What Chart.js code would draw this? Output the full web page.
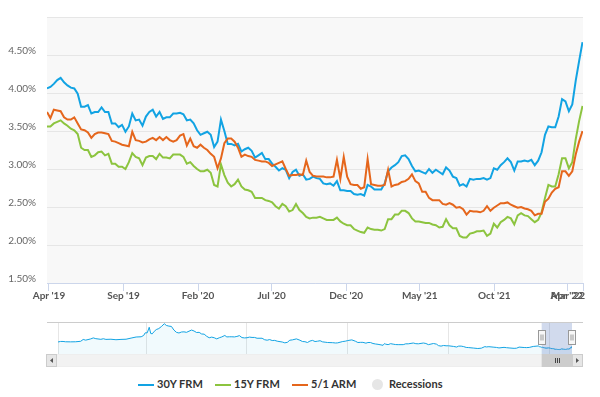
<!DOCTYPE html>
<html><head><meta charset="utf-8">
<script src="https://cdn.jsdelivr.net/npm/chart.js@4.4.0/dist/chart.umd.min.js"></script>
<style>
html,body{margin:0;padding:0;background:#fff;width:600px;height:397px;overflow:hidden;font-family:Lato,sans-serif}
#main{position:absolute;left:0;top:0}
#nav{position:absolute;left:0;top:314px}
#legend{position:absolute;left:0;top:377px;width:600px;height:16px}
.li{position:absolute;top:0;height:16px;line-height:16px;font:bold 11px Lato,sans-serif;color:#333;white-space:nowrap}
.sym{position:absolute;top:7px;width:16px;height:2px}
.dot{position:absolute;top:2px;width:11px;height:11px;border-radius:50%;background:#e6e6e6}
</style></head><body>
<canvas id="main" width="600" height="310"></canvas>
<canvas id="nav" width="600" height="60"></canvas>
<div id="legend"></div>
<script>
// ---- data (Freddie Mac PMMS weekly, %) ----
const firstWeek = '2019-03-28';
const rate30 = [
4.06,4.08,4.12,4.17,4.20,4.14,4.10,4.07,4.06,3.99,
3.82,3.82,3.84,3.73,3.75,3.75,3.81,3.75,3.75,3.60,
3.60,3.55,3.58,3.49,3.56,3.73,3.64,3.65,3.57,3.69,
3.75,3.78,3.69,3.75,3.66,3.68,3.68,3.73,3.73,3.74,
3.72,3.64,3.65,3.60,3.51,3.45,3.47,3.49,3.45,3.29,
3.36,3.65,3.50,3.33,3.33,3.31,3.33,3.23,3.26,3.28,
3.24,3.15,3.18,3.21,3.13,3.13,3.07,3.03,2.98,3.01,
2.99,2.88,2.96,2.99,2.91,2.93,2.86,2.87,2.90,2.88,
2.87,2.81,2.80,2.81,2.78,2.84,2.72,2.72,2.71,2.71,
2.67,2.66,2.67,2.65,2.79,2.77,2.73,2.73,2.73,2.81,
2.97,3.02,3.05,3.09,3.17,3.18,3.13,3.04,2.97,2.98,
2.96,2.94,3.00,2.95,2.99,2.96,2.93,3.02,2.98,2.90,
2.88,2.78,2.80,2.77,2.87,2.86,2.87,2.87,2.88,2.86,
2.88,3.01,2.99,3.05,3.09,3.14,3.09,2.98,3.10,3.10,
3.11,3.10,3.12,3.05,3.11,3.22,3.45,3.56,3.55,3.55,
3.69,3.92,3.89,3.76,3.85,4.16,4.42,4.67];
const rate15 = [
3.56,3.56,3.60,3.62,3.64,3.60,3.57,3.53,3.51,3.46,
3.28,3.25,3.25,3.16,3.18,3.22,3.23,3.18,3.20,3.07,
3.07,3.03,3.03,3.00,3.09,3.21,3.16,3.14,3.05,3.15,
3.17,3.17,3.13,3.20,3.15,3.15,3.14,3.19,3.19,3.19,
3.16,3.07,3.09,3.04,3.00,2.97,2.97,2.99,2.95,2.79,
2.77,3.06,2.92,2.82,2.77,2.80,2.86,2.77,2.73,2.72,
2.70,2.62,2.62,2.62,2.59,2.58,2.56,2.51,2.48,2.54,
2.51,2.44,2.46,2.54,2.46,2.42,2.37,2.35,2.36,2.36,
2.37,2.35,2.33,2.33,2.33,2.36,2.31,2.28,2.26,2.26,
2.21,2.19,2.17,2.16,2.23,2.21,2.20,2.20,2.19,2.21,
2.34,2.34,2.40,2.40,2.45,2.45,2.42,2.35,2.31,2.31,
2.30,2.29,2.29,2.27,2.26,2.23,2.24,2.34,2.26,2.22,
2.22,2.12,2.10,2.10,2.15,2.16,2.18,2.18,2.19,2.12,
2.15,2.28,2.23,2.30,2.33,2.37,2.35,2.27,2.39,2.42,
2.39,2.38,2.34,2.30,2.33,2.43,2.62,2.79,2.77,2.77,
2.93,3.14,3.14,3.01,3.09,3.39,3.63,3.83];
const arm51 = [
3.75,3.67,3.78,3.77,3.76,3.68,3.65,3.65,3.68,3.60,
3.52,3.51,3.48,3.41,3.46,3.48,3.48,3.47,3.46,3.37,
3.36,3.34,3.32,3.31,3.30,3.49,3.38,3.37,3.35,3.36,
3.39,3.41,3.38,3.42,3.38,3.42,3.38,3.36,3.38,3.44,
3.46,3.31,3.40,3.30,3.28,3.32,3.28,3.25,3.20,3.16,
3.01,3.14,3.34,3.40,3.40,3.36,3.28,3.16,3.19,3.17,
3.16,3.12,3.11,3.10,3.10,3.08,3.04,3.06,3.08,3.10,
3.00,2.91,2.92,2.92,2.93,2.92,3.11,2.96,2.91,2.90,
2.90,2.90,2.89,2.89,2.90,3.12,2.87,3.16,2.90,2.80,
2.79,2.79,2.74,2.76,3.13,2.80,2.79,2.78,2.78,2.79,
2.99,2.77,2.79,2.80,2.83,2.84,2.87,2.93,2.84,2.81,
2.70,2.70,2.62,2.59,2.59,2.59,2.54,2.53,2.55,2.53,
2.49,2.50,2.47,2.40,2.45,2.44,2.44,2.43,2.45,2.51,
2.45,2.49,2.52,2.55,2.55,2.56,2.53,2.51,2.49,2.50,
2.48,2.47,2.45,2.39,2.41,2.41,2.57,2.61,2.69,2.74,
2.76,2.97,2.97,2.91,2.97,3.19,3.36,3.50];
const seriesNames = ['30Y FRM','15Y FRM','5/1 ARM'];
const seriesColors = ['#12a3e3','#8cc43f','#e5661c'];
const xTickDates = ['2019-04-01','2019-09-01','2020-02-01','2020-07-01','2020-12-01','2021-05-01','2021-10-01','2022-03-01','2022-04-01'];
const yTicks = [1.5,2.0,2.5,3.0,3.5,4.0,4.5,5.0];
// navigator: long history of the 30Y FRM before the weekly window
const navHistYears = [1971.25,1971.5,1971.75,1972.0,1972.5,1973.0,1973.5,1973.75,1974.0,1974.5,1974.75,1975.0,1975.5,1975.75,1976.0,1976.5,1977.0,1977.5,1978.0,1978.5,1979.0,1979.5,1979.75,1979.9,1980.1,1980.3,1980.45,1980.6,1980.8,1981.0,1981.25,1981.5,1981.8,1982.0,1982.25,1982.5,1982.75,1983.0,1983.25,1983.5,1983.75,1984.0,1984.5,1984.75,1985.0,1985.25,1985.5,1985.75,1986.0,1986.25,1986.5,1986.75,1987.0,1987.25,1987.5,1987.8,1988.0,1988.25,1988.5,1988.75,1989.0,1989.25,1989.5,1989.75,1990.0,1990.25,1990.5,1990.75,1991.0,1991.5,1991.75,1992.0,1992.25,1992.5,1992.75,1993.0,1993.5,1993.75,1994.0,1994.25,1994.5,1994.9,1995.25,1995.5,1995.75,1996.0,1996.25,1996.5,1996.75,1997.0,1997.25,1997.5,1997.75,1998.0,1998.5,1998.8,1999.0,1999.5,1999.75,2000.0,2000.4,2000.75,2001.0,2001.25,2001.5,2001.8,2002.0,2002.25,2002.5,2002.75,2003.0,2003.5,2003.65,2003.75,2004.0,2004.25,2004.5,2004.75,2005.0,2005.5,2005.75,2006.0,2006.5,2006.75,2007.0,2007.5,2007.75,2008.0,2008.5,2008.8,2009.0,2009.25,2009.5,2009.75,2010.0,2010.5,2010.8,2011.0,2011.25,2011.5,2011.75,2012.0,2012.5,2012.9,2013.25,2013.6,2013.75,2014.0,2014.5,2014.75,2015.0,2015.5,2015.75,2016.0,2016.5,2016.75,2017.0,2017.5,2017.75,2018.0,2018.4,2018.9,2019.0,2019.15];
const navHistRates = [7.33,7.65,7.65,7.45,7.40,7.45,7.75,8.85,8.45,9.20,9.80,9.35,8.95,9.30,8.90,9.00,8.70,8.90,9.00,9.70,10.35,10.50,11.30,12.90,12.90,16.30,12.50,12.30,13.80,14.90,15.50,16.70,18.45,17.40,17.00,16.80,14.60,13.20,12.80,13.40,13.50,13.20,14.60,14.00,13.10,13.20,12.20,12.10,10.80,9.90,10.30,9.90,9.20,9.90,10.40,11.30,10.40,10.50,10.50,10.40,10.70,11.20,10.00,9.80,9.90,10.30,10.10,10.10,9.60,9.60,8.70,8.40,8.80,8.20,8.30,7.80,7.30,6.80,7.10,8.40,8.60,9.20,8.40,7.60,7.50,7.00,7.90,8.30,7.60,7.80,8.10,7.40,7.20,7.00,6.90,6.70,6.80,7.60,7.80,8.20,8.60,7.80,7.00,7.10,7.10,6.60,7.00,7.00,6.40,6.10,5.90,5.30,6.40,6.00,5.70,6.30,6.00,5.75,5.70,5.70,6.20,6.20,6.70,6.30,6.20,6.70,6.40,5.70,6.40,6.00,5.10,4.80,5.20,5.00,5.00,4.60,4.25,4.80,4.80,4.50,4.00,3.90,3.60,3.35,3.55,4.50,4.30,4.45,4.15,4.00,3.70,4.05,3.85,3.70,3.45,3.55,4.20,3.95,3.90,4.00,4.60,4.90,4.50,4.30];
const navTickYears = [1971.25,1980,1990,2000,2010,2020];
const navTickLabels = ['1970','1980','1990','2000','2010','20'];
const legendExtra = 'Recessions';

// ---- helpers ----
const DAY = 86400000;
const t0 = Date.parse(firstWeek + 'T00:00:00Z');
const weekDates = rate30.map((_, i) => t0 + i * 7 * DAY);
const tickMs = xTickDates.map(v => Date.parse(v + 'T00:00:00Z'));
const MON = ['Jan','Feb','Mar','Apr','May','Jun','Jul','Aug','Sep','Oct','Nov','Dec'];
function fmtDate(v){ const d = new Date(v); return MON[d.getUTCMonth()] + " '" + String(d.getUTCFullYear()).slice(2); }
function toYear(ms){ return 1970 + ms / (365.2425 * DAY); }
const seriesValues = [rate30, rate15, arm51];
const xMax = Math.max(weekDates[weekDates.length-1], tickMs[tickMs.length-1]);

// ---- main chart ----
const plotBg = {id:'plotBg', beforeDraw(c){ const a=c.chartArea, x=c.ctx; x.save(); x.fillStyle='#f8f8f8'; x.fillRect(a.left,a.top,a.right-a.left,a.bottom-a.top); x.restore(); }};
new Chart(document.getElementById('main'), {
  type:'line',
  data:{ datasets: seriesNames.map((n, k) => ({
    label:n, data: weekDates.map((d, i) => ({x:d, y:seriesValues[k][i]})),
    borderColor:seriesColors[k], backgroundColor:seriesColors[k], borderWidth:2, pointRadius:0, tension:0, fill:false
  })).reverse() },
  options:{
    responsive:false, animation:false, devicePixelRatio:1,
    layout:{padding:{left:0,right:17,top:6,bottom:0}},
    plugins:{legend:{display:false}, tooltip:{enabled:false}},
    scales:{
      x:{ type:'linear', min:weekDates[0], max:xMax,
        afterBuildTicks(s){ s.ticks = [{value:s.min}].concat(tickMs.map(v => ({value:v}))); },
        afterFit(s){ s.height = 27; },
        grid:{ drawOnChartArea:false, drawTicks:true, tickLength:8, tickColor:(c)=> c.index===0 ? 'rgba(0,0,0,0)' : '#ccd6eb' },
        border:{ display:true, color:'#ccd6eb' },
        ticks:{ autoSkip:false, maxRotation:0, minRotation:0, align:'inner', padding:-1, color:'#555',
          font:{family:'Lato', size:10, weight:'bold'}, callback:(v,i)=> i===0 ? '' : fmtDate(v) }
      },
      y:{ min:1.5, max:5,
        afterBuildTicks(s){ s.ticks = yTicks.map(v => ({value:v})); },
        afterFit(s){ s.width = 47; },
        grid:{ color:'#e6e6e6', drawTicks:false },
        border:{ display:false },
        ticks:{ padding:11, labelOffset:-4, color:'#666', font:{family:'Lato', size:10},
          callback:(v)=> v >= 5 ? '' : v.toFixed(2) + '%' }
      }
    }
  },
  plugins:[plotBg]
});

// ---- navigator ----
const navPoints = navHistYears.map((y, i) => ({x:y, y:navHistRates[i]}))
  .concat(weekDates.map((d, i) => ({x:toYear(d), y:rate30[i]})));
const maskFrom = toYear(weekDates[0]), maskTo = toYear(weekDates[weekDates.length-1]);
const navChrome = {id:'navChrome', afterDraw(c){
  const ctx=c.ctx, a=c.chartArea, xs=c.scales.x;
  const m0 = xs.getPixelForValue(maskFrom), m1 = xs.getPixelForValue(maskTo);
  ctx.save();
  ctx.fillStyle='rgba(102,133,194,0.3)';
  ctx.fillRect(m0, a.top, m1-m0, a.bottom-a.top);
  ctx.strokeStyle='#cccccc'; ctx.lineWidth=1;
  ctx.beginPath(); ctx.moveTo(47, a.top+0.5); ctx.lineTo(583, a.top+0.5); ctx.stroke();
  // scrollbar
  const sy = a.bottom, sh = 13;
  ctx.fillStyle='#f2f2f2'; ctx.fillRect(46, sy, 537, sh);
  ctx.strokeStyle='#eeeeee'; ctx.strokeRect(46.5, sy+0.5, 536, sh-1);
  // thumb
  ctx.fillStyle='#cccccc'; ctx.fillRect(m0, sy, m1-m0, sh);
  ctx.strokeStyle='#444'; ctx.beginPath();
  const cx = Math.round((m0+m1)/2);
  [-2,0,2].forEach(o => { ctx.moveTo(cx+o+0.5, sy+4); ctx.lineTo(cx+o+0.5, sy+9); });
  ctx.stroke();
  // buttons
  [[46,'l'],[572,'r']].forEach(([bx,dir]) => {
    ctx.fillStyle='#e6e6e6'; ctx.fillRect(bx, sy, 11, sh);
    ctx.strokeStyle='#cccccc'; ctx.strokeRect(bx+0.5, sy+0.5, 10, sh-1);
    ctx.fillStyle='#555'; ctx.beginPath();
    const mx = bx+5.5, my = sy+6.5;
    if(dir==='l'){ ctx.moveTo(mx+1.5,my-2.5); ctx.lineTo(mx-1.5,my); ctx.lineTo(mx+1.5,my+2.5); }
    else { ctx.moveTo(mx-1.5,my-2.5); ctx.lineTo(mx+1.5,my); ctx.lineTo(mx-1.5,my+2.5); }
    ctx.closePath(); ctx.fill();
  });
  // handles
  [m0, m1].forEach(px => {
    const hx = Math.round(px) - 3.5, hy = a.top + 8.5;
    ctx.fillStyle='#f7f7f7'; ctx.fillRect(hx, hy, 7, 14);
    ctx.strokeStyle='#999999'; ctx.strokeRect(hx, hy, 7, 14);
    ctx.beginPath(); ctx.moveTo(hx+2.5, hy+4); ctx.lineTo(hx+2.5, hy+10); ctx.moveTo(hx+4.5, hy+4); ctx.lineTo(hx+4.5, hy+10); ctx.stroke();
  });
  ctx.restore();
}};
new Chart(document.getElementById('nav'), {
  type:'line',
  data:{ datasets:[{ label:seriesNames[0], data:navPoints, borderColor:seriesColors[0], borderWidth:1, pointRadius:0, tension:0,
    fill:'start', backgroundColor:'rgba(18,163,227,0.06)' }] },
  options:{
    responsive:false, animation:false, devicePixelRatio:1,
    layout:{padding:{left:58,right:28,top:8,bottom:20}},
    plugins:{legend:{display:false}, tooltip:{enabled:false}},
    scales:{
      x:{ type:'linear', min:navHistYears[0], max:maskTo,
        afterBuildTicks(s){ s.ticks = navTickYears.map(v => ({value:v})); },
        afterFit(s){ s.height = 0; },
        grid:{ color:'#e6e6e6', drawTicks:false },
        border:{ display:false },
        ticks:{ autoSkip:false, maxRotation:0, minRotation:0, align:'start', padding:-12, labelOffset:3, color:'#999',
          font:{family:'Lato', size:10}, callback:(v,i)=> navTickLabels[i] }
      },
      y:{ display:false, min:0, max:19.5 }
    }
  },
  plugins:[navChrome]
});

// ---- legend ----
const lg = document.getElementById('legend');
const symLefts = [138, 215, 292];
seriesNames.forEach((n, k) => {
  const s = document.createElement('div'); s.className='sym'; s.style.left = symLefts[k]+'px'; s.style.background = seriesColors[k]; lg.appendChild(s);
  const t = document.createElement('div'); t.className='li'; t.style.left = (symLefts[k]+19)+'px'; t.textContent = n; lg.appendChild(t);
});
const dot = document.createElement('div'); dot.className='dot'; dot.style.left='372px'; lg.appendChild(dot);
const rt = document.createElement('div'); rt.className='li'; rt.style.left='389px'; rt.textContent = legendExtra; lg.appendChild(rt);
</script>
</body></html>
